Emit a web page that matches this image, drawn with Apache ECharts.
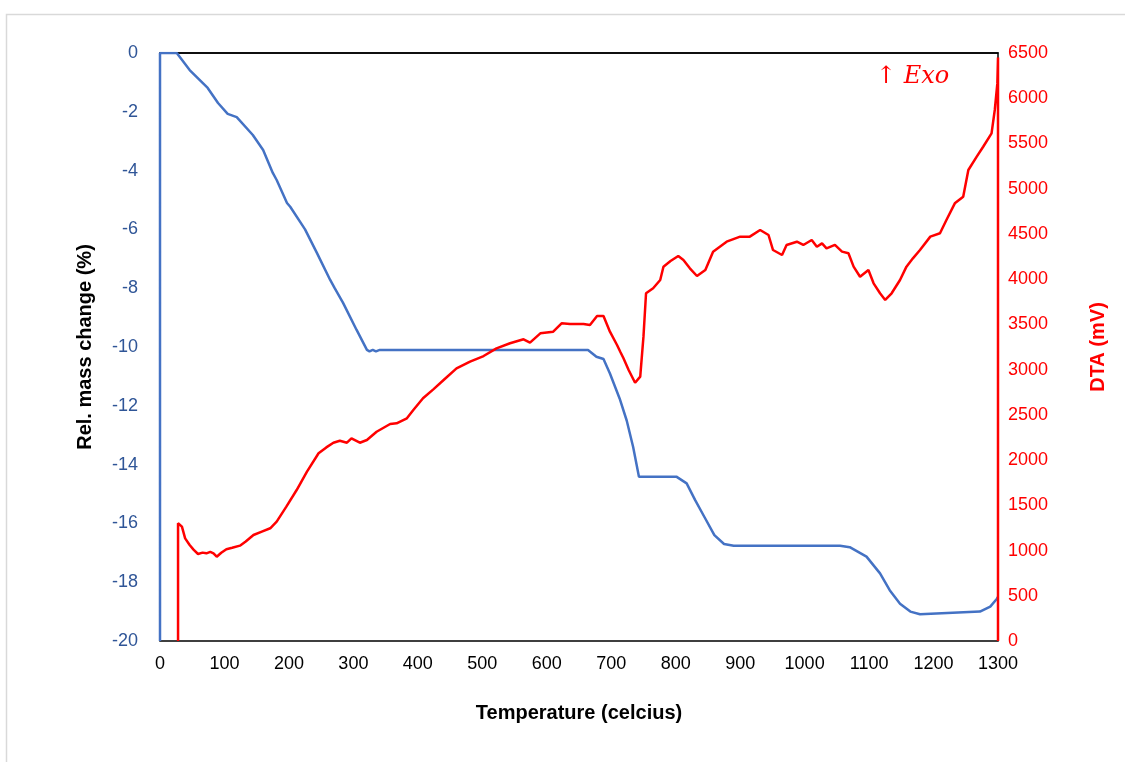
<!DOCTYPE html>
<html>
<head>
<meta charset="utf-8">
<script src="https://cdn.jsdelivr.net/npm/echarts@6/dist/echarts.min.js"></script>
<style>html,body{margin:0;padding:0;background:#fff}#c{width:1125px;height:762px}</style>
</head>
<body>
<div id="c"></div>
<script>
// Relative mass change (%) vs temperature
const massTemp = [0,0,26,46,74,90,105,119,144,160,175,181,197,202,225,243,264,271,284,305,321,325,330,335,341,664,677,688,698,713,724,734,743,801,817,830,845,860,875,890,1055,1070,1096,1117,1132,1148,1164,1179,1272,1288,1298,1300];
const massVal  = [-20,0,0,-0.58,-1.19,-1.7,-2.07,-2.18,-2.79,-3.3,-4.08,-4.32,-5.1,-5.23,-6.0,-6.78,-7.72,-8.0,-8.5,-9.42,-10.1,-10.15,-10.1,-10.15,-10.1,-10.1,-10.33,-10.41,-10.9,-11.75,-12.5,-13.4,-14.41,-14.41,-14.64,-15.2,-15.8,-16.4,-16.7,-16.76,-16.76,-16.81,-17.13,-17.7,-18.27,-18.73,-19.0,-19.09,-19.0,-18.83,-18.57,-18.5];
// DTA (mV) vs temperature
const dtaTemp = [28,28,34,39,46,52,59,66,72,78,83,88,95,103,112,124,133,145,158,171,181,196,212,228,246,258,269,279,290,297,310,321,336,357,367,383,393,408,424,440,460,481,502,522,543,564,574,590,610,623,636,657,667,678,688,698,709,714,719,727,737,745,750,754,765,776,781,792,804,812,822,833,846,858,879,900,915,931,944,951,965,972,988,998,1011,1019,1027,1034,1047,1058,1068,1076,1086,1099,1107,1117,1125,1135,1148,1158,1168,1179,1195,1210,1220,1233,1246,1254,1267,1277,1290,1295,1299,1300,1300];
const dtaVal  = [0,1301,1264,1135,1061,1010,962,977,969,985,969,932,975,1014,1030,1054,1100,1172,1210,1246,1319,1485,1669,1872,2075,2140,2192,2214,2192,2240,2192,2222,2313,2399,2406,2462,2553,2683,2782,2885,3014,3088,3150,3235,3291,3335,3298,3401,3419,3512,3504,3504,3493,3593,3593,3419,3272,3198,3125,2996,2855,2922,3364,3844,3899,3991,4138,4200,4256,4212,4120,4035,4101,4304,4414,4470,4470,4543,4488,4322,4267,4378,4414,4378,4433,4359,4396,4341,4378,4304,4286,4138,4027,4101,3954,3844,3770,3844,3991,4138,4230,4322,4470,4507,4654,4838,4912,5207,5354,5464,5612,5870,6164,6450,0];
const xTicks = {min:0, max:1300, step:100};
const leftTicks = {min:-20, max:0, step:2};
const rightTicks = {min:0, max:6500, step:500};

const massData = massTemp.map((t,i)=>[t,massVal[i]]);
const dtaData = dtaTemp.map((t,i)=>[t,dtaVal[i]]);
const FONT = 'Liberation Sans';
const plain = v => String(v);
const chart = echarts.init(document.getElementById('c'), null, {renderer:'canvas'});
chart.setOption({
  animation:false,
  backgroundColor:'#fff',
  grid:{left:160, right:127, top:53, bottom:121, show:true, borderColor:'#000', borderWidth:1.5, backgroundColor:'transparent'},
  graphic:[
    {type:'rect', shape:{x:6.5,y:14.5,width:1130,height:760}, style:{fill:'none', stroke:'#d9d9d9', lineWidth:1.5}, silent:true},
    {type:'text', left:876, top:65, style:{text:'\u2191 Exo', fill:'#ff0000', font:'italic 24px "DejaVu Serif", "Liberation Serif", serif'}}
  ],
  xAxis:{type:'value', min:xTicks.min, max:xTicks.max, interval:xTicks.step,
    name:'Temperature (celcius)', nameLocation:'middle', nameGap:62, nameMoveOverlap:false,
    nameTextStyle:{fontFamily:FONT, fontSize:20, fontWeight:'bold', color:'#000'},
    axisLine:{show:true, lineStyle:{color:'#000', width:1.5}}, axisTick:{show:false},
    axisLabel:{fontFamily:FONT, fontSize:18, color:'#000', margin:14, formatter:plain},
    splitLine:{show:false}},
  yAxis:[
    {type:'value', min:leftTicks.min, max:leftTicks.max, interval:leftTicks.step, position:'left',
     name:'Rel. mass change (%)', nameLocation:'middle', nameGap:65, nameRotate:90, nameMoveOverlap:false,
     nameTextStyle:{fontFamily:FONT, fontSize:20, fontWeight:'bold', color:'#000'},
     axisLine:{show:false}, axisTick:{show:false}, splitLine:{show:false},
     axisLabel:{fontFamily:FONT, fontSize:18, color:'#2F5597', margin:22, formatter:plain}},
    {type:'value', min:rightTicks.min, max:rightTicks.max, interval:rightTicks.step, position:'right',
     name:'DTA (mV)', nameLocation:'middle', nameGap:90, nameRotate:90, nameMoveOverlap:false,
     nameTextStyle:{fontFamily:FONT, fontSize:20, fontWeight:'bold', color:'#ff0000'},
     axisLine:{show:false}, axisTick:{show:false}, splitLine:{show:false},
     axisLabel:{fontFamily:FONT, fontSize:18, color:'#ff0000', margin:10, formatter:plain}}
  ],
  series:[
    {type:'line', name:'Mass', yAxisIndex:0, data:massData, showSymbol:false, symbol:'none',
     lineStyle:{color:'#4472C4', width:2.5}, z:3},
    {type:'line', name:'DTA', yAxisIndex:1, data:dtaData, showSymbol:false, symbol:'none',
     lineStyle:{color:'#ff0000', width:2.5}, z:4}
  ]
});
</script>
</body>
</html>
